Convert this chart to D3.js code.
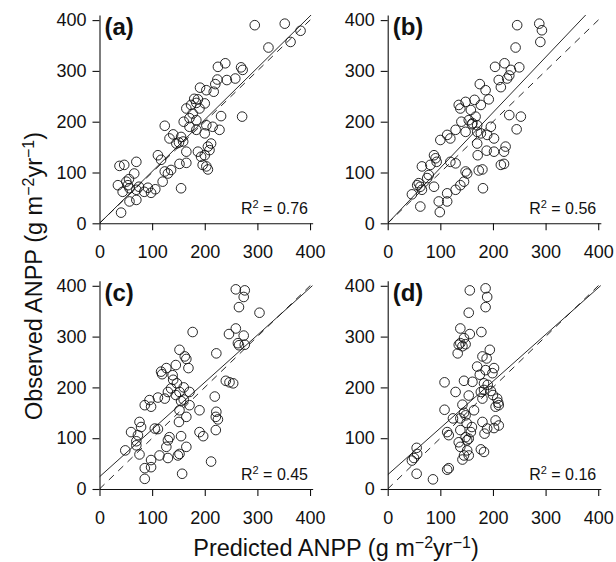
<!DOCTYPE html>
<html>
<head>
<meta charset="utf-8">
<script src="https://cdn.jsdelivr.net/npm/d3@7"></script>
<style>
  body { margin: 0; background: #fff; }
  svg { display: block; }
  text { font-family: "Liberation Sans", Arial, Helvetica, sans-serif; }
</style>
</head>
<body>
<script>
// tick values shared by every axis
const tickValues = [0, 100, 200, 300, 400];

// panel labels, R2 values and the fitted lines (intercept, slope)
const panelNames = ['(a)', '(b)', '(c)', '(d)'];
const rSquared = ['0.76', '0.56', '0.45', '0.16'];
const fitIntercepts = [0, 0, 24, 28];
const fitSlopes = [1.02, 1.09, 0.93, 0.92];

// (a) predicted / observed ANPP
const predA = [295, 352, 382, 363, 321, 239, 225, 269, 272, 258, 242, 224, 220, 217, 203, 191, 187, 200, 184, 174,
  165, 190, 177, 171, 184, 231, 271, 215, 228, 203, 124, 171, 184, 200, 133, 155, 151, 159, 146, 212,
  206, 209, 187, 200, 165, 193, 111, 117, 165, 152, 196, 203, 206, 124, 130, 136, 155, 120, 106, 92,
  85, 98, 70, 47, 38, 35, 51, 56, 54, 57, 44, 70, 70, 57, 41, 66, 160, 180, 140, 75];
const obsA = [390, 393, 379, 357, 346, 315, 308, 307, 302, 285, 282, 283, 274, 259, 262, 267, 244, 236, 237, 233,
  226, 226, 216, 207, 203, 211, 210, 190, 184, 193, 192, 190, 184, 177, 167, 170, 159, 161, 157, 157,
  151, 144, 141, 134, 141, 131, 134, 125, 119, 117, 115, 112, 106, 102, 98, 105, 69, 82, 67, 70,
  62, 60, 121, 115, 113, 75, 82, 87, 75, 69, 62, 66, 46, 43, 21, 98, 200, 245, 175, 72];

// (b)
const predB = [246, 288, 293, 290, 243, 204, 222, 250, 234, 231, 227, 211, 215, 175, 186, 192, 165, 148, 135, 138,
  158, 177, 167, 154, 231, 253, 245, 161, 170, 196, 148, 129, 113, 119, 100, 170, 177, 189, 202, 170,
  224, 221, 202, 188, 171, 215, 221, 88, 91, 93, 81, 65, 119, 129, 148, 151, 180, 173, 145, 138,
  129, 113, 113, 97, 99, 78, 75, 59, 56, 65, 62, 46, 88, 62, 181, 160, 140];
const obsB = [390, 393, 380, 357, 346, 308, 315, 307, 302, 291, 285, 282, 268, 274, 262, 244, 243, 239, 233, 226,
  223, 233, 210, 203, 213, 210, 185, 197, 193, 190, 180, 184, 174, 167, 164, 180, 177, 174, 167, 157,
  151, 141, 141, 143, 134, 115, 117, 134, 128, 121, 115, 112, 121, 118, 102, 98, 106, 104, 82, 75,
  66, 59, 43, 43, 22, 95, 89, 79, 75, 66, 72, 57, 72, 33, 69, 195, 200];

// (c)
const predC = [259, 276, 274, 265, 304, 177, 259, 246, 274, 263, 265, 276, 222, 152, 162, 165, 169, 145, 127, 117,
  119, 139, 147, 136, 130, 152, 171, 240, 247, 254, 145, 160, 171, 155, 124, 111, 95, 86, 98, 219,
  190, 152, 222, 221, 225, 165, 151, 76, 79, 60, 105, 111, 190, 197, 221, 155, 133, 130, 73, 70,
  49, 70, 127, 165, 152, 149, 114, 130, 98, 76, 212, 98, 86, 86, 157, 140, 160];
const obsC = [393, 391, 378, 358, 347, 309, 316, 305, 302, 287, 283, 284, 267, 274, 261, 256, 238, 244, 238, 231,
  226, 224, 208, 198, 191, 191, 191, 213, 210, 208, 185, 176, 165, 173, 178, 180, 175, 165, 162, 182,
  155, 155, 152, 142, 137, 142, 132, 132, 122, 112, 119, 118, 112, 104, 116, 104, 102, 96, 106, 94,
  76, 86, 83, 83, 69, 66, 66, 61, 57, 68, 54, 43, 41, 20, 30, 215, 200];

// (d)
const predD = [156, 186, 189, 186, 154, 138, 156, 145, 178, 135, 138, 148, 142, 133, 194, 180, 188, 170, 186, 202,
  199, 108, 145, 161, 183, 129, 154, 177, 183, 196, 180, 208, 210, 205, 211, 142, 108, 164, 148, 138,
  124, 205, 211, 202, 180, 189, 184, 138, 158, 113, 116, 148, 154, 151, 135, 138, 151, 177, 183, 145,
  142, 154, 55, 56, 46, 50, 55, 86, 116, 113, 150, 145, 190, 200, 160, 175];
const obsD = [391, 395, 378, 358, 347, 316, 305, 297, 309, 284, 287, 285, 281, 267, 274, 261, 257, 241, 234, 238,
  228, 210, 213, 211, 208, 191, 184, 191, 195, 193, 178, 178, 170, 162, 165, 166, 156, 155, 145, 139,
  139, 135, 125, 120, 132, 119, 109, 116, 112, 112, 106, 102, 99, 96, 92, 83, 76, 78, 73, 66,
  58, 66, 81, 69, 56, 61, 30, 19, 41, 38, 130, 150, 205, 185, 122, 225];

const panelPred = [predA, predB, predC, predD];
const panelObs = [obsA, obsB, obsC, obsD];

const width = 616, height = 562;
const colLeft = [99.5, 387.7];
const rowBottom = [223.3, 489];
const pxPerUnitX = 0.5263, pxPerUnitY = 0.508;
const xMax = 405, yMax = 410;

const svg = d3.select('body').append('svg')
    .attr('width', width)
    .attr('height', height);

panelNames.forEach((name, i) => {
  const left = colLeft[i % 2];
  const bottom = rowBottom[Math.floor(i / 2)];

  const x = d3.scaleLinear().domain([0, xMax]).range([left, left + xMax * pxPerUnitX]);
  const y = d3.scaleLinear().domain([0, yMax]).range([bottom, bottom - yMax * pxPerUnitY]);

  const g = svg.append('g');

  // clip for the lines
  const clipId = 'clip' + i;
  g.append('clipPath').attr('id', clipId)
    .append('rect')
      .attr('x', x(0)).attr('y', y(yMax))
      .attr('width', x(xMax) - x(0)).attr('height', y(0) - y(yMax));

  const xAxisG = g.append('g')
      .attr('transform', `translate(0,${bottom})`)
      .call(d3.axisBottom(x).tickValues(tickValues).tickSize(7).tickPadding(15).tickSizeOuter(0));
  const yAxisG = g.append('g')
      .attr('transform', `translate(${left},0)`)
      .call(d3.axisLeft(y).tickValues(tickValues).tickSize(7).tickPadding(6).tickSizeOuter(0));

  [xAxisG, yAxisG].forEach(a => {
    a.attr('font-family', null).attr('font-size', null);
    a.selectAll('text').style('font-size', '18px').attr('fill', '#111');
    a.selectAll('line, path').attr('stroke', '#111').attr('stroke-width', 1.1);
  });

  // 1:1 line
  g.append('line')
      .attr('clip-path', `url(#${clipId})`)
      .attr('x1', x(0)).attr('y1', y(0))
      .attr('x2', x(xMax)).attr('y2', y(xMax))
      .attr('stroke', '#111').attr('stroke-width', 0.9)
      .attr('stroke-dasharray', '7,6');

  // fitted line
  const b0 = fitIntercepts[i], b1 = fitSlopes[i];
  g.append('line')
      .attr('clip-path', `url(#${clipId})`)
      .attr('x1', x(0)).attr('y1', y(b0))
      .attr('x2', x(xMax)).attr('y2', y(b0 + b1 * xMax))
      .attr('stroke', '#111').attr('stroke-width', 0.9);

  const pts = panelPred[i].map((p, k) => ({pred: p, obs: panelObs[i][k]}));
  g.selectAll('.pt')
    .data(pts)
    .join('circle')
      .attr('class', 'pt')
      .attr('cx', d => x(d.pred))
      .attr('cy', d => y(d.obs))
      .attr('r', 4.8)
      .attr('fill', 'none')
      .attr('stroke', '#111')
      .attr('stroke-width', 0.9);

  g.append('text')
      .attr('x', left + 5)
      .attr('y', y(400) + 15)
      .style('font-size', '24px')
      .style('font-weight', 'bold')
      .attr('fill', '#111')
      .text(name);

  const r2 = g.append('text')
      .attr('x', x(400) - 2)
      .attr('y', bottom - 9)
      .attr('text-anchor', 'end')
      .style('font-size', '16px')
      .attr('fill', '#111');
  r2.append('tspan').text('R');
  r2.append('tspan').attr('dy', -6).style('font-size', '11px').text('2');
  r2.append('tspan').attr('dy', 6).text(' = ' + rSquared[i]);
});

// axis titles
function unitTitle(sel, label) {
  sel.append('tspan').text(label + ' (g m');
  sel.append('tspan').attr('dy', -8).style('font-size', '16px').text('\u22122');
  sel.append('tspan').attr('dy', 8).text('yr');
  sel.append('tspan').attr('dy', -8).style('font-size', '16px').text('\u22121');
  sel.append('tspan').attr('dy', 8).text(')');
}

const xTitle = svg.append('text')
    .attr('x', 336)
    .attr('y', 556)
    .attr('text-anchor', 'middle')
    .style('font-size', '23.5px')
    .attr('fill', '#111');
unitTitle(xTitle, 'Predicted ANPP');

const yTitle = svg.append('text')
    .attr('transform', 'translate(42,276) rotate(-90)')
    .attr('text-anchor', 'middle')
    .style('font-size', '23.5px')
    .attr('fill', '#111');
unitTitle(yTitle, 'Observed ANPP');
</script>
</body>
</html>
